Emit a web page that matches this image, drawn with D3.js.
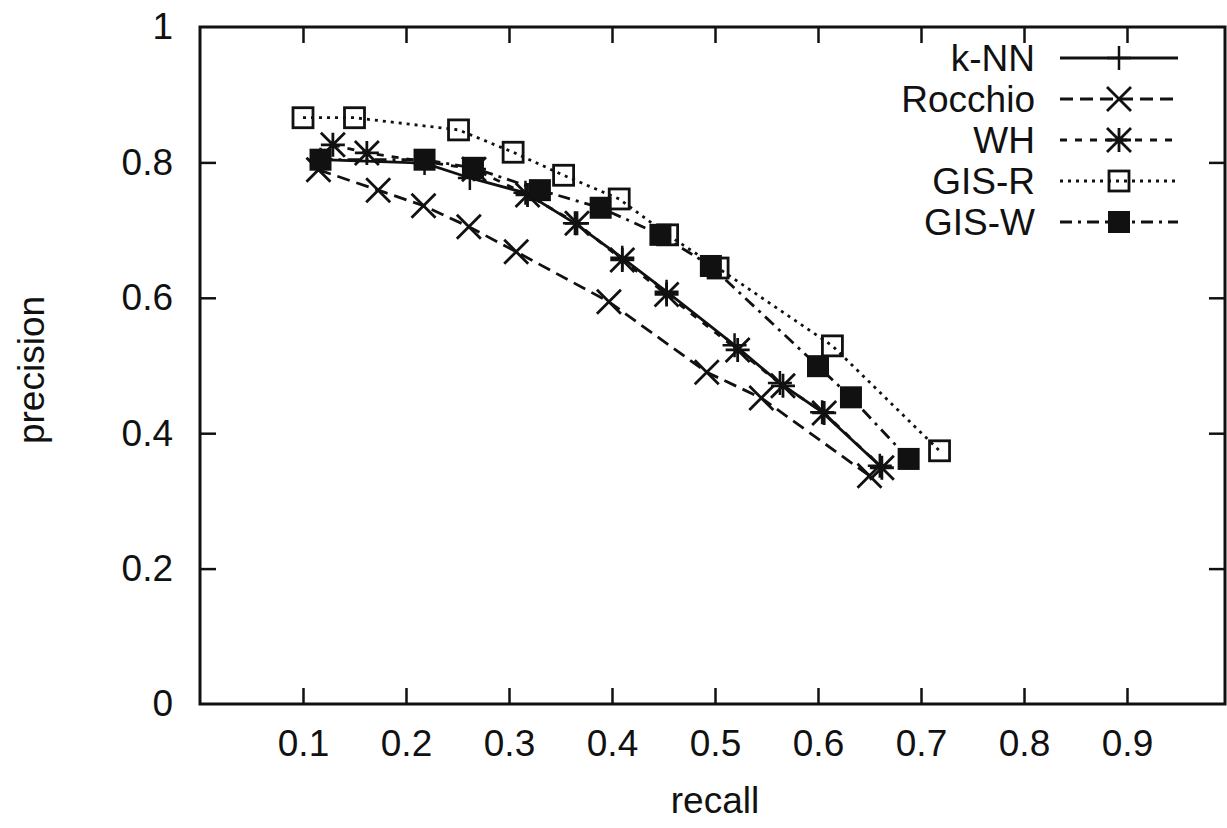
<!DOCTYPE html>
<html>
<head>
<meta charset="utf-8">
<script src="https://cdn.jsdelivr.net/npm/d3@7"></script>
<style>
  body { margin: 0; background: #fff; }
  text { font-family: "Liberation Sans", Arial, sans-serif; fill: #111; }
</style>
</head>
<body>
<script>
// values
var xTicks = [0.1, 0.2, 0.3, 0.4, 0.5, 0.6, 0.7, 0.8, 0.9];
var yTicks = [0, 0.2, 0.4, 0.6, 0.8, 1];
var yTickLabels = ["0", "0.2", "0.4", "0.6", "0.8", "1"];

var knnRecall    = [0.117, 0.218, 0.262, 0.316, 0.364, 0.410, 0.453, 0.519, 0.563, 0.604, 0.660];
var knnPrecision = [0.804, 0.799, 0.777, 0.755, 0.710, 0.659, 0.609, 0.530, 0.474, 0.431, 0.352];

var rocRecall    = [0.115, 0.173, 0.217, 0.261, 0.307, 0.397, 0.492, 0.545, 0.650];
var rocPrecision = [0.789, 0.759, 0.736, 0.705, 0.668, 0.594, 0.490, 0.452, 0.337];

var whRecall     = [0.129, 0.162, 0.266, 0.318, 0.366, 0.410, 0.453, 0.522, 0.566, 0.606, 0.662];
var whPrecision  = [0.826, 0.814, 0.790, 0.752, 0.710, 0.656, 0.605, 0.523, 0.470, 0.430, 0.349];

var girRecall    = [0.100, 0.150, 0.251, 0.304, 0.353, 0.407, 0.454, 0.503, 0.614, 0.718];
var girPrecision = [0.866, 0.866, 0.848, 0.815, 0.781, 0.746, 0.693, 0.644, 0.529, 0.374];

var giwRecall    = [0.117, 0.218, 0.265, 0.330, 0.389, 0.447, 0.496, 0.600, 0.632, 0.688];
var giwPrecision = [0.804, 0.804, 0.792, 0.759, 0.733, 0.693, 0.647, 0.499, 0.453, 0.362];

var seriesNames = ["k-NN", "Rocchio", "WH", "GIS-R", "GIS-W"];

var width = 1227;
var height = 828;
var frame = { left: 200, right: 1225, top: 27, bottom: 704 };
var fontSize = 37;

var svg = d3.select("body")
  .append("svg")
  .attr("width", width)
  .attr("height", height);

var xScale = d3.scaleLinear()
  .domain([0, 1])
  .range([frame.left, 1230]);

var yScale = d3.scaleLinear()
  .domain([0, 1])
  .range([frame.bottom, frame.top]);

// frame box
svg.append("rect")
  .attr("x", frame.left)
  .attr("y", frame.top)
  .attr("width", frame.right - frame.left)
  .attr("height", frame.bottom - frame.top)
  .attr("fill", "none")
  .attr("stroke", "#111")
  .attr("stroke-width", 3);

var tickLen = 16;

// bottom axis, ticks point inward
var xAxis = svg.append("g")
  .attr("transform", `translate(0,${frame.bottom})`)
  .call(d3.axisBottom(xScale).tickValues(xTicks).tickSize(-tickLen).tickPadding(26).tickFormat(d3.format(".1f")));
xAxis.select(".domain").remove();
xAxis.selectAll("line").attr("stroke", "#111").attr("stroke-width", 2.5);
xAxis.selectAll("text").attr("font-size", fontSize).attr("fill", "#111")
  .style("font-family", "Liberation Sans, Arial, sans-serif");

// top ticks
var xTop = svg.append("g")
  .attr("transform", `translate(0,${frame.top})`)
  .call(d3.axisTop(xScale).tickValues(xTicks).tickSize(-tickLen).tickFormat(""));
xTop.select(".domain").remove();
xTop.selectAll("line").attr("stroke", "#111").attr("stroke-width", 2.5);

// left axis
var yAxis = svg.append("g")
  .attr("transform", `translate(${frame.left},0)`)
  .call(d3.axisLeft(yScale).tickValues(yTicks).tickSize(-tickLen).tickPadding(27)
    .tickFormat(function(d, i) { return yTickLabels[i]; }));
yAxis.select(".domain").remove();
yAxis.selectAll("line").attr("stroke", "#111").attr("stroke-width", 2.5)
  .filter(function(d) { return d === 0 || d === 1; }).remove();
yAxis.selectAll("text").attr("font-size", fontSize).attr("fill", "#111")
  .style("font-family", "Liberation Sans, Arial, sans-serif");

// right ticks
var yRight = svg.append("g")
  .attr("transform", `translate(${frame.right},0)`)
  .call(d3.axisRight(yScale).tickValues([0.2, 0.4, 0.6, 0.8]).tickSize(-tickLen).tickFormat(""));
yRight.select(".domain").remove();
yRight.selectAll("line").attr("stroke", "#111").attr("stroke-width", 2.5);

svg.append("text") // x label
  .attr("x", 715)
  .attr("y", 813)
  .attr("font-size", fontSize)
  .style("text-anchor", "middle")
  .text("recall");

svg.append("text") // y label
  .attr("transform", "translate(44,370) rotate(-90)")
  .attr("font-size", fontSize)
  .style("text-anchor", "middle")
  .text("precision");

// marker drawing
function drawMarker(g, type, x, y) {
  var s = 12;
  if (type === "plus") {
    g.append("path").attr("d", `M${x - s},${y}H${x + s}M${x},${y - s}V${y + s}`)
      .attr("stroke", "#111").attr("stroke-width", 2.5).attr("fill", "none");
  } else if (type === "cross") {
    g.append("path").attr("d", `M${x - s},${y - s}L${x + s},${y + s}M${x - s},${y + s}L${x + s},${y - s}`)
      .attr("stroke", "#111").attr("stroke-width", 2.8).attr("fill", "none");
  } else if (type === "star") {
    g.append("path").attr("d", `M${x - s},${y - s}L${x + s},${y + s}M${x - s},${y + s}L${x + s},${y - s}M${x - s},${y}H${x + s}M${x},${y - s}V${y + s}`)
      .attr("stroke", "#111").attr("stroke-width", 2.8).attr("fill", "none");
  } else if (type === "box") {
    g.append("rect").attr("x", x - 10).attr("y", y - 10).attr("width", 20).attr("height", 20)
      .attr("stroke", "#111").attr("stroke-width", 2.8).attr("fill", "none");
  } else if (type === "fbox") {
    g.append("rect").attr("x", x - 11).attr("y", y - 11).attr("width", 22).attr("height", 22)
      .attr("fill", "#111");
  }
}

var series = [
  { name: seriesNames[0], rx: knnRecall, py: knnPrecision, dash: null,         marker: "plus" },
  { name: seriesNames[1], rx: rocRecall, py: rocPrecision, dash: "13,7",       marker: "cross" },
  { name: seriesNames[2], rx: whRecall,  py: whPrecision,  dash: "7,8",        marker: "star" },
  { name: seriesNames[3], rx: girRecall, py: girPrecision, dash: "3,5",        marker: "box" },
  { name: seriesNames[4], rx: giwRecall, py: giwPrecision, dash: "12,6,3,6",   marker: "fbox" }
];

var line = d3.line()
  .x(function(d) { return xScale(d[0]); })
  .y(function(d) { return yScale(d[1]); });

series.forEach(function(s, i) {
  var pts = s.rx.map(function(r, j) { return [r, s.py[j]]; });
  var g = svg.append("g");
  g.append("path")
    .attr("d", line(pts))
    .attr("fill", "none")
    .attr("stroke", "#111")
    .attr("stroke-width", 2.8)
    .attr("stroke-dasharray", s.dash);
  pts.forEach(function(p) { drawMarker(g, s.marker, xScale(p[0]), yScale(p[1])); });

  // legend row
  var ly = 58 + i * 41;
  svg.append("text")
    .attr("x", 1035)
    .attr("y", ly + 13)
    .attr("font-size", fontSize)
    .style("text-anchor", "end")
    .text(s.name);
  svg.append("line")
    .attr("x1", 1060).attr("x2", 1178)
    .attr("y1", ly).attr("y2", ly)
    .attr("stroke", "#111")
    .attr("stroke-width", 2.8)
    .attr("stroke-dasharray", s.dash);
  drawMarker(svg.append("g"), s.marker, 1119, ly);
});
</script>
</body>
</html>
